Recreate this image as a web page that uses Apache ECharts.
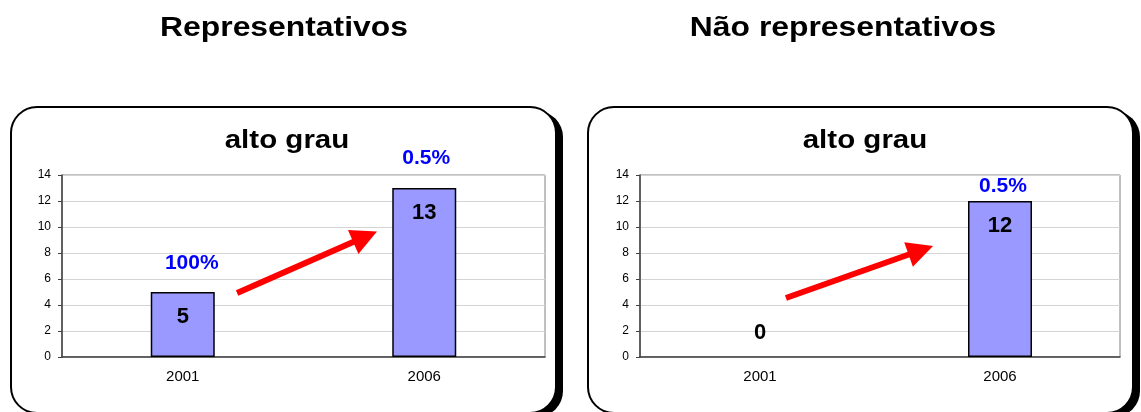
<!DOCTYPE html>
<html>
<head>
<meta charset="utf-8">
<script src="https://cdn.jsdelivr.net/npm/echarts@6/dist/echarts.min.js"></script>
<style>
  html, body { margin: 0; padding: 0; background: #fff; }
  #chart { width: 1141px; height: 412px; }
</style>
</head>
<body>
<div id="chart"></div>
<script>
// data
var categories = ['2001', '2006'];
var repValues = [5, 13];
var naoValues = [0, 12];
var repPercent = ['100%', '0.5%'];
var naoPercent = ['', '0.5%'];
var yTicks = { min: 0, max: 14, interval: 2 };
// arrows, in axis units (x: 0 = 2001, 1 = 2006)
var repArrow = [[0.225, 4.92], [0.755, 9.25]];
var naoArrow = [[0.108, 4.54], [0.670, 8.21]];

var FONT = '"Liberation Sans", Arial, sans-serif';
var chart = echarts.init(document.getElementById('chart'));

// label tweaks for each panel
var pctDist = [[18, 19], [0, 4]];
var pctOff = [[9, 2], [0, 3]];

function valueItems(vals) {
  return vals.map(function (v) {
    if (v === 0) {
      return { value: v, itemStyle: { borderWidth: 0 }, label: { position: 'top', distance: 13 } };
    }
    return v;
  });
}
function pctItems(vals, pcts, p) {
  return vals.map(function (v, i) {
    return {
      value: v,
      label: { formatter: pcts[i], distance: pctDist[p][i], offset: [pctOff[p][i], 0] }
    };
  });
}

function catAxis(grid) {
  return {
    type: 'category', gridIndex: grid, data: categories,
    axisLine: { lineStyle: { color: '#404040', width: 1.5 } },
    axisTick: { length: 4, lineStyle: { color: '#404040' } },
    axisLabel: { color: '#000', fontSize: 15, fontFamily: FONT, margin: 12 }
  };
}
function hiddenX(grid) {
  return { type: 'value', gridIndex: grid, min: -0.5, max: 1.5, show: false, splitLine: { show: false } };
}
function valAxis(grid) {
  return {
    type: 'value', gridIndex: grid, min: yTicks.min, max: yTicks.max, interval: yTicks.interval,
    axisLine: { show: true, onZero: false, lineStyle: { color: '#404040', width: 1.5 } },
    axisTick: { show: true, length: 4, lineStyle: { color: '#404040' } },
    axisLabel: { color: '#000', fontSize: 12, fontFamily: FONT, margin: 11 },
    splitLine: { lineStyle: { color: '#d4d4d4', width: 1 } }
  };
}
function barSeries(xi, yi, vals) {
  return {
    type: 'bar', xAxisIndex: xi, yAxisIndex: yi, barWidth: 64, z: 3,
    data: valueItems(vals),
    itemStyle: { color: '#9999ff', borderColor: '#000', borderWidth: 1.5 },
    label: {
      show: true, position: 'insideTop', distance: 14,
      color: '#000', fontSize: 22, fontWeight: 'bold', fontFamily: FONT
    }
  };
}
function pctSeries(xi, yi, vals, pcts, p) {
  return {
    type: 'bar', xAxisIndex: xi, yAxisIndex: yi, barWidth: 64, barGap: '-100%', z: 2,
    data: pctItems(vals, pcts, p),
    itemStyle: { color: 'transparent' },
    label: {
      show: true, position: 'top',
      color: '#0000ff', fontSize: 21, fontWeight: 'bold', fontFamily: FONT
    }
  };
}
function arrowSeries(xi, yi, coords) {
  return {
    type: 'lines', coordinateSystem: 'cartesian2d', xAxisIndex: xi, yAxisIndex: yi, z: 5,
    symbol: ['none', 'triangle'], symbolSize: [28, 26],
    lineStyle: { color: '#ff0000', width: 6, opacity: 1, curveness: 0 },
    data: [{ coords: coords }]
  };
}

function panel(x, w) {
  return [
    { type: 'rect', shape: { x: x + 7, y: 111, width: w, height: 306, r: 26 },
      style: { fill: '#000' }, z: -2 },
    { type: 'rect', shape: { x: x, y: 107, width: w, height: 306, r: 26 },
      style: { fill: '#fff', stroke: '#000', lineWidth: 2 }, z: -1 }
  ];
}
function text(t, x, y, size, sx) {
  return {
    type: 'text', x: x, y: y, z: 10, scaleX: sx,
    style: { text: t, textAlign: 'center', textVerticalAlign: 'middle',
      font: 'bold ' + size + 'px ' + FONT, fill: '#000' }
  };
}

chart.setOption({
  animation: false,
  grid: [
    { left: 62, top: 175, width: 483, height: 182, show: true, borderColor: '#808080', borderWidth: 1 },
    { left: 640, top: 175, width: 480, height: 182, show: true, borderColor: '#808080', borderWidth: 1 }
  ],
  xAxis: [catAxis(0), hiddenX(0), catAxis(1), hiddenX(1)],
  yAxis: [valAxis(0), valAxis(1)],
  graphic: panel(11, 545).concat(panel(588, 545)).concat([
    text('Representativos', 284, 29, 27, 1.18),
    text('Não representativos', 843, 29, 27, 1.18),
    text('alto grau', 287, 141, 25, 1.18),
    text('alto grau', 865, 141, 25, 1.18)
  ]),
  series: [
    barSeries(0, 0, repValues),
    pctSeries(0, 0, repValues, repPercent, 0),
    arrowSeries(1, 0, repArrow),
    barSeries(2, 1, naoValues),
    pctSeries(2, 1, naoValues, naoPercent, 1),
    arrowSeries(3, 1, naoArrow)
  ]
});
</script>
</body>
</html>
